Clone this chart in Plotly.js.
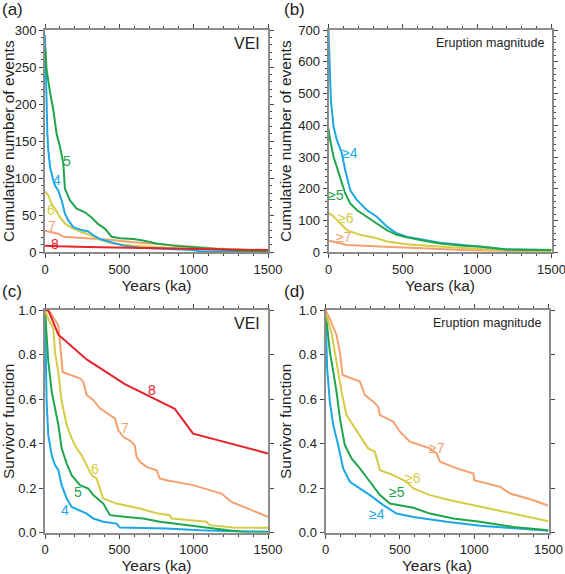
<!DOCTYPE html>
<html>
<head>
<meta charset="utf-8">
<script src="https://cdn.plot.ly/plotly-3.0.1.min.js"></script>
<style>
html,body{margin:0;padding:0;background:#fff;}
#chart{width:565px;height:574px;}
</style>
</head>
<body>
<div id="chart"></div>
<script>
// ---------- Panel (a): cumulative number of events by VEI ----------
const a_vei4_t = [0,4,11,16,22,34,51,67,90,112,134,157,190,246,291,325,369,437,526,638,817,996,1041,1500];
const a_vei4_n = [293,250,192,160,138,115,101,90,83,70,52,43,34,30,28,23,18,14,9,6,4.5,3,1.5,1];
const a_vei5_t = [0,4,11,22,34,56,78,101,123,134,168,213,269,313,358,403,448,504,594,660,750,862,996,1153,1310,1500];
const a_vei5_n = [275,270,246,230,216,192,160,142,120,86,70,59,54,47,38,32,21,19,18,16,12,9,7,4.5,2,1.5];
const a_vei6_t = [0,22,45,67,101,134,179,246,313,369,459,594,817,1041,1500];
const a_vei6_n = [82,77,65,59,47,39,33,27,22.5,17,12,9,6,4,2];
const a_vei7_t = [0,56,90,123,280,437,594,750,929,1153,1377,1500];
const a_vei7_n = [29,27,25,21,19.5,17,13.5,11,8,5,3,2];
const a_vei8_t = [0,30,90,280,537,873,996,1500];
const a_vei8_n = [9,9,8,7,6,5,4,3];

// ---------- Panel (b): cumulative number of events by eruption magnitude ----------
const b_m4_t = [0,7,16,34,56,90,112,146,190,257,325,392,459,526,616,750,907,1018,1198,1500];
const b_m4_n = [700,585,480,396,354,312,259,196,165,133,112,81,60,49,41,30,23,18,9,7];
const b_m5_t = [0,11,34,67,90,112,146,190,257,325,392,459,526,616,750,907,1018,1198,1500];
const b_m5_n = [390,354,301,249,217,186,154,133,112,91,70,55,47,39,28,21,18,9,7];
const b_m6_t = [0,22,56,90,123,213,325,392,526,683,907,1130,1500];
const b_m6_n = [123,118,102,86,70,55,44,34,25,20,13,7,4];
const b_m7_t = [0,56,123,347,571,907,1240,1500];
const b_m7_n = [37,31,23,18,13,7,4,3];

// ---------- Panel (c): survivor function by VEI ----------
const c_vei4_t = [0,4,11,22,45,67,90,112,146,179,235,280,325,392,481,504,817,1041,1270,1500];
const c_vei4_s = [1,0.81,0.588,0.438,0.348,0.303,0.28,0.213,0.153,0.115,0.10,0.085,0.063,0.048,0.04,0.022,0.018,0.01,0.006,0.003];
const c_vei5_t = [0,11,22,45,67,90,112,146,179,235,291,325,392,437,548,660,772,951,1153,1354,1500];
const c_vei5_s = [1,0.9,0.77,0.633,0.558,0.483,0.378,0.31,0.258,0.213,0.198,0.168,0.13,0.078,0.07,0.063,0.048,0.033,0.018,0,0];
const c_vei6_t = [0,22,56,67,90,112,146,179,213,246,280,313,347,381,392,481,638,761,840,851,1086,1108,1265,1500];
const c_vei6_s = [1,0.96,0.918,0.81,0.72,0.59,0.483,0.423,0.378,0.348,0.303,0.258,0.243,0.168,0.153,0.13,0.108,0.085,0.078,0.063,0.048,0.033,0.022,0.021];
const c_vei7_t = [0,34,90,101,119,235,257,280,325,369,437,470,493,526,582,604,616,638,683,750,772,817,996,1187,1254,1399,1500];
const c_vei7_s = [1,0.99,0.93,0.86,0.72,0.693,0.678,0.618,0.595,0.558,0.528,0.513,0.46,0.43,0.408,0.39,0.34,0.318,0.295,0.28,0.243,0.235,0.213,0.175,0.138,0.10,0.07];
const c_vei8_t = [0,22,90,280,537,873,996,1500];
const c_vei8_s = [1,1,0.889,0.778,0.667,0.556,0.444,0.355];

// ---------- Panel (d): survivor function by eruption magnitude ----------
const d_m4_t = [0,4,11,29,52,85,119,164,231,299,389,478,591,815,1040,1264,1500];
const d_m4_s = [1,0.888,0.738,0.588,0.483,0.393,0.288,0.228,0.198,0.168,0.123,0.085,0.07,0.048,0.03,0.018,0.008];
const d_m5_t = [0,11,29,52,74,97,130,175,231,299,366,433,523,591,703,860,1040,1264,1500];
const d_m5_s = [1,0.918,0.813,0.723,0.633,0.513,0.393,0.333,0.288,0.228,0.168,0.13,0.12,0.111,0.085,0.063,0.048,0.025,0.01];
const d_m6_t = [0,18,40,63,85,108,141,186,243,287,332,366,456,546,591,703,838,995,1152,1309,1500];
const d_m6_s = [1,0.948,0.9,0.81,0.72,0.633,0.528,0.483,0.423,0.378,0.363,0.28,0.258,0.228,0.198,0.168,0.145,0.123,0.10,0.078,0.051];
const d_m7_t = [0,29,74,97,115,175,231,265,321,355,366,456,501,568,703,748,770,883,995,1000,1175,1242,1399,1500];
const d_m7_s = [1,0.96,0.888,0.81,0.708,0.693,0.678,0.618,0.588,0.565,0.528,0.498,0.453,0.408,0.378,0.355,0.318,0.288,0.265,0.235,0.205,0.175,0.145,0.12];

// ---------- Labels ----------
const panelLabels = ['(a)','(b)','(c)','(d)'];
const veiLabels = ['4','5','6','7','8'];
const magLabels = ['≥4','≥5','≥6','≥7'];
const xTitle = 'Years (ka)';
const yTitleCount = 'Cumulative number of events';
const yTitleSurv = 'Survivor function';
const boxVEI = 'VEI';
const boxMag = 'Eruption magnitude';

// label anchor positions (data coords)
const a_lab_t = [79,146,38,45,67];      const a_lab_n = [97,123,57,36,11];
const b_lab_t = [145,51,119,101];       const b_lab_n = [314,180,107,49];
const c_lab_t = [134,224,336,537,723];  const c_lab_s = [0.10,0.18,0.285,0.47,0.64];
const d_lab_t = [344,483,586,748];      const d_lab_s = [0.081,0.18,0.246,0.382];

// colours
const C_BLUE = '#1ba7e6', C_GREEN = '#1fa64b', C_YELLOW = '#d5cc45', C_ORANGE = '#f6a070', C_RED = '#e6222b';
const veiColors = [C_BLUE, C_GREEN, C_YELLOW, C_ORANGE, C_RED];
const magColors = [C_BLUE, C_GREEN, C_YELLOW, C_ORANGE];

const FONT = 'Liberation Sans, Arial, Helvetica, sans-serif';

function tr(x, y, color, xa, ya) {
  return {x: x, y: y, xaxis: xa, yaxis: ya, type: 'scatter', mode: 'lines',
          line: {color: color, width: 2}, hoverinfo: 'skip', showlegend: false};
}

const data = [
  tr(a_vei7_t, a_vei7_n, C_ORANGE, 'x', 'y'),
  tr(a_vei6_t, a_vei6_n, C_YELLOW, 'x', 'y'),
  tr(a_vei4_t, a_vei4_n, C_BLUE, 'x', 'y'),
  tr(a_vei5_t, a_vei5_n, C_GREEN, 'x', 'y'),
  tr(a_vei8_t, a_vei8_n, C_RED, 'x', 'y'),

  tr(b_m7_t, b_m7_n, C_ORANGE, 'x2', 'y2'),
  tr(b_m6_t, b_m6_n, C_YELLOW, 'x2', 'y2'),
  tr(b_m4_t, b_m4_n, C_BLUE, 'x2', 'y2'),
  tr(b_m5_t, b_m5_n, C_GREEN, 'x2', 'y2'),

  tr(c_vei4_t, c_vei4_s, C_BLUE, 'x3', 'y3'),
  tr(c_vei5_t, c_vei5_s, C_GREEN, 'x3', 'y3'),
  tr(c_vei6_t, c_vei6_s, C_YELLOW, 'x3', 'y3'),
  tr(c_vei7_t, c_vei7_s, C_ORANGE, 'x3', 'y3'),
  tr(c_vei8_t, c_vei8_s, C_RED, 'x3', 'y3'),

  tr(d_m4_t, d_m4_s, C_BLUE, 'x4', 'y4'),
  tr(d_m5_t, d_m5_s, C_GREEN, 'x4', 'y4'),
  tr(d_m6_t, d_m6_s, C_YELLOW, 'x4', 'y4'),
  tr(d_m7_t, d_m7_s, C_ORANGE, 'x4', 'y4')
];

const W = 565, H = 574;
function xdom(l, r) { return [l / W, r / W]; }
function ydom(t, b) { return [1 - b / H, 1 - t / H]; }

function xax(dom, anchor) {
  return {
    domain: dom, anchor: anchor, range: [0, 1500], dtick: 500, tick0: 0,
    showline: true, linecolor: '#8c8c8c', linewidth: 2, mirror: 'ticks',
    ticks: 'outside', ticklen: 4, tickwidth: 1, tickcolor: '#444',
    minor: {dtick: 100, ticks: 'outside', ticklen: 2, tickwidth: 1, tickcolor: '#444'},
    showgrid: false, zeroline: false, fixedrange: true,
    ticklabeloverflow: 'allow',
    tickfont: {family: FONT, size: 13, color: '#222'},
    title: {text: xTitle, font: {family: FONT, size: 15.5, color: '#222'}, standoff: 3}
  };
}
function yax(dom, anchor, range, dtick, mdt, fmt, title) {
  const o = {
    domain: dom, anchor: anchor, range: range, dtick: dtick, tick0: 0,
    showline: true, linecolor: '#8c8c8c', linewidth: 2, mirror: 'ticks',
    ticks: 'outside', ticklen: 4, tickwidth: 1, tickcolor: '#444',
    showgrid: false, zeroline: false, fixedrange: true,
    ticklabeloverflow: 'allow',
    tickfont: {family: FONT, size: 13, color: '#222'},
    title: {text: title, font: {family: FONT, size: 15.5, color: '#222'}, standoff: 3}
  };
  if (mdt) o.minor = {dtick: mdt, ticks: 'outside', ticklen: 2, tickwidth: 1, tickcolor: '#444'};
  if (fmt) o.tickformat = fmt;
  return o;
}

const annotations = [];
function lab(text, x, y, color, xa, ya, size) {
  annotations.push({text: text, x: x, y: y, xref: xa, yref: ya, showarrow: false,
    font: {family: FONT, size: size || 14, color: color}, xanchor: 'center', yanchor: 'middle'});
}
veiLabels.forEach((t, i) => lab(t, a_lab_t[i], a_lab_n[i], veiColors[i], 'x', 'y'));
magLabels.forEach((t, i) => lab(t, b_lab_t[i], b_lab_n[i], magColors[i], 'x2', 'y2'));
veiLabels.forEach((t, i) => lab(t, c_lab_t[i], c_lab_s[i], veiColors[i], 'x3', 'y3'));
magLabels.forEach((t, i) => lab(t, d_lab_t[i], d_lab_s[i], magColors[i], 'x4', 'y4'));

// box titles
[['x', 'y', boxVEI, 16], ['x2', 'y2', boxMag, 12.5], ['x3', 'y3', boxVEI, 16], ['x4', 'y4', boxMag, 12.5]].forEach(b => {
  annotations.push({text: b[2], xref: b[0] + ' domain', yref: b[1] + ' domain', x: 0.975, y: 0.94,
    xanchor: 'right', yanchor: 'middle', showarrow: false, font: {family: FONT, size: b[3], color: '#222'}});
});

// panel labels
const plPos = [[0, 10], [282, 10], [0, 291], [282, 291]];
panelLabels.forEach((t, i) => {
  annotations.push({text: t, xref: 'paper', yref: 'paper', x: plPos[i][0] / W, y: 1 - plPos[i][1] / H,
    xanchor: 'left', yanchor: 'middle', showarrow: false, font: {family: FONT, size: 17, color: '#222'}});
});

const layout = {
  width: W, height: H,
  margin: {l: 0, r: 0, t: 0, b: 0},
  paper_bgcolor: '#ffffff', plot_bgcolor: '#ffffff',
  font: {family: FONT, color: '#222'},
  showlegend: false,
  xaxis: xax(xdom(45, 268), 'y'),
  yaxis: yax(ydom(30, 252.3), 'x', [0, 300], 50, 10, null, yTitleCount),
  xaxis2: xax(xdom(328.5, 551.5), 'y2'),
  yaxis2: yax(ydom(30, 252.3), 'x2', [0, 700], 100, 20, null, yTitleCount),
  xaxis3: xax(xdom(45, 268), 'y3'),
  yaxis3: yax(ydom(310, 532.5), 'x3', [0, 1], 0.2, null, '.1f', yTitleSurv),
  xaxis4: xax(xdom(325.5, 548.5), 'y4'),
  yaxis4: yax(ydom(310, 532.5), 'x4', [0, 1], 0.2, null, '.1f', yTitleSurv),
  annotations: annotations
};

Plotly.newPlot('chart', data, layout, {displayModeBar: false, staticPlot: true});
</script>
</body>
</html>
